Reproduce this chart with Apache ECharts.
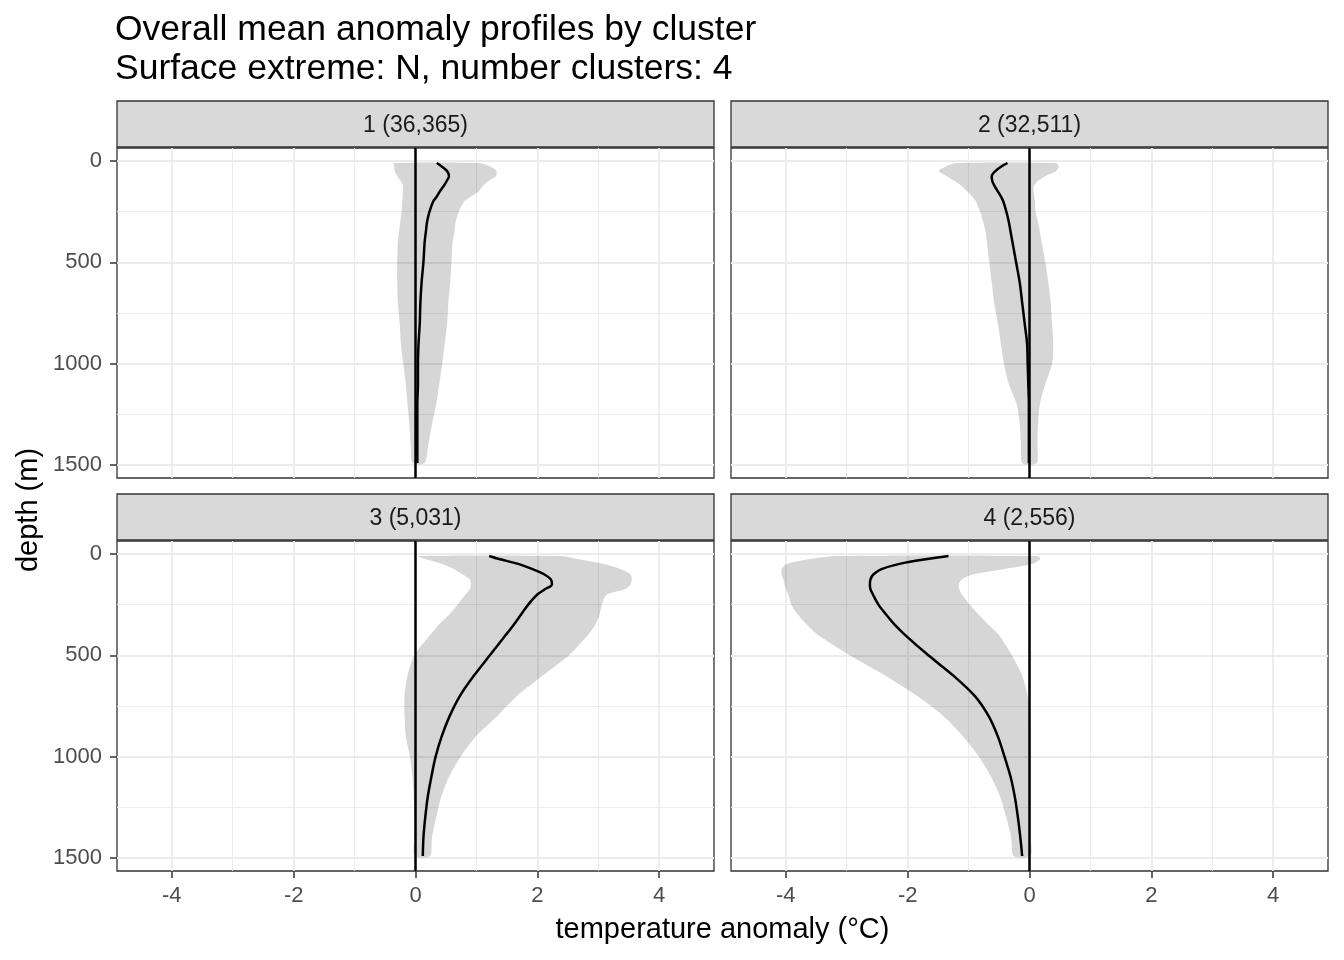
<!DOCTYPE html>
<html>
<head>
<meta charset="utf-8">
<script src="https://cdn.jsdelivr.net/npm/echarts@6/dist/echarts.min.js"></script>
<style>
html,body{margin:0;padding:0;background:#fff;}
#chart{width:1344px;height:960px;}
</style>
</head>
<body>
<div id="chart"></div>
<script>
// ---- data ----
const depths = [10, 25, 50, 75, 100, 125, 150, 175, 200, 250, 300, 350, 400, 500, 600, 700, 800, 900, 1000, 1100, 1200, 1300, 1400, 1490];

const clusterLabels = ['1 (36,365)', '2 (32,511)', '3 (5,031)', '4 (2,556)'];

const mean1 = [0.35,0.42,0.52,0.55,0.51,0.46,0.40,0.35,0.29,0.23,0.19,0.17,0.15,0.13,0.10,0.08,0.07,0.05,0.04,0.04,0.03,0.03,0.03,0.03];
const lo1   = [-0.36,-0.35,-0.34,-0.30,-0.24,-0.20,-0.21,-0.21,-0.22,-0.23,-0.25,-0.27,-0.29,-0.30,-0.30,-0.29,-0.26,-0.24,-0.20,-0.16,-0.13,-0.10,-0.08,-0.05];
const hi1   = [1.04,1.21,1.33,1.32,1.19,1.10,1.04,0.91,0.80,0.71,0.66,0.64,0.61,0.59,0.57,0.54,0.52,0.48,0.44,0.39,0.34,0.27,0.21,0.15];

const mean2 = [-0.36,-0.45,-0.56,-0.62,-0.61,-0.57,-0.52,-0.47,-0.43,-0.38,-0.34,-0.31,-0.28,-0.22,-0.16,-0.12,-0.08,-0.04,-0.03,-0.02,-0.01,-0.01,-0.01,-0.01];
const lo2   = [-1.19,-1.36,-1.49,-1.36,-1.22,-1.11,-1.02,-0.94,-0.88,-0.81,-0.76,-0.72,-0.70,-0.66,-0.62,-0.58,-0.52,-0.47,-0.42,-0.34,-0.21,-0.16,-0.14,-0.12];
const hi2   = [0.43,0.48,0.44,0.26,0.13,0.07,0.07,0.08,0.09,0.10,0.14,0.17,0.20,0.26,0.31,0.35,0.37,0.39,0.37,0.26,0.17,0.14,0.13,0.12];

const mean3 = [1.21,1.37,1.70,1.92,2.11,2.22,2.24,2.12,2.00,1.85,1.73,1.61,1.48,1.22,0.96,0.73,0.56,0.43,0.33,0.26,0.20,0.16,0.13,0.12];
const lo3   = [0.04,0.16,0.44,0.63,0.77,0.89,0.91,0.89,0.82,0.69,0.55,0.38,0.24,-0.02,-0.13,-0.18,-0.18,-0.16,-0.09,-0.05,-0.03,-0.02,-0.02,-0.02];
const hi3   = [2.39,2.66,3.10,3.37,3.53,3.55,3.53,3.43,3.14,3.06,3.02,2.95,2.83,2.52,2.09,1.67,1.34,0.99,0.74,0.55,0.42,0.34,0.27,0.24];

const mean4 = [-1.33,-1.68,-2.15,-2.43,-2.56,-2.61,-2.62,-2.61,-2.57,-2.48,-2.35,-2.21,-2.04,-1.66,-1.25,-0.90,-0.67,-0.52,-0.41,-0.31,-0.24,-0.19,-0.15,-0.12];
const lo4   = [-3.17,-3.60,-3.99,-4.07,-4.07,-4.04,-4.02,-3.99,-3.96,-3.91,-3.80,-3.65,-3.47,-2.95,-2.37,-1.85,-1.41,-1.09,-0.83,-0.63,-0.48,-0.38,-0.30,-0.26];
const hi4   = [0.13,0.18,0.04,-0.42,-0.92,-1.11,-1.16,-1.15,-1.11,-0.98,-0.83,-0.67,-0.50,-0.29,-0.12,-0.03,0.01,0.02,0.02,0.02,0.02,0.02,0.02,0.02];

const xMajorTicks = [-4, -2, 0, 2, 4];
const xMinorTicks = [-3, -1, 1, 3];
const yMajorTicks = [0, 500, 1000, 1500];
const yMinorTicks = [250, 750, 1250];

const titleText = 'Overall mean anomaly profiles by cluster\nSurface extreme: N, number clusters: 4';
const xTitle = 'temperature anomaly (°C)';
const yTitle = 'depth (m)';

// ---- layout ----
const FONT = '"Liberation Sans", Arial, Helvetica, sans-serif';
const means = [mean1, mean2, mean3, mean4];
const los = [lo1, lo2, lo3, lo4];
const his = [hi1, hi2, hi3, hi4];
const panels = [
  {left: 117, top: 148},
  {left: 731, top: 148},
  {left: 117, top: 541},
  {left: 731, top: 541}
];
const PW = 597, PH = 330, STRIP = 46;
const XMIN = -4.9, XMAX = 4.9, YMIN = -64, YMAX = 1564;

const grid = [], xAxis = [], yAxis = [], series = [], graphic = [];
const plain = v => String(v);

panels.forEach((p, i) => {
  const bottomRow = i >= 2, leftCol = (i % 2) === 0;
  grid.push({left: p.left, top: p.top, width: PW, height: PH, show: true,
    backgroundColor: '#fff', borderColor: '#333333', borderWidth: 1.3, containLabel: false});
  xAxis.push({type: 'value', gridIndex: i, min: XMIN, max: XMAX, position: 'bottom',
    axisLine: {show: false, onZero: false},
    axisTick: {show: bottomRow, length: 7, customValues: xMajorTicks, lineStyle: {color: '#333333', width: 1.5}},
    axisLabel: {show: bottomRow, customValues: xMajorTicks, formatter: plain, fontSize: 22, color: '#4D4D4D', margin: 14, fontFamily: FONT},
    splitLine: {show: true, lineStyle: {color: '#EBEBEB', width: 1.8}}
  });
  xAxis.push({type: 'value', gridIndex: i, min: XMIN, max: XMAX, position: 'bottom',
    axisLine: {show: false, onZero: false},
    axisTick: {show: false, customValues: xMinorTicks},
    axisLabel: {show: false, customValues: xMinorTicks},
    splitLine: {show: true, lineStyle: {color: '#EBEBEB', width: 0.9}}
  });
  yAxis.push({type: 'value', gridIndex: i, min: YMIN, max: YMAX, inverse: true, position: 'left',
    axisLine: {show: false, onZero: false},
    axisTick: {show: leftCol, length: 7, customValues: yMajorTicks, lineStyle: {color: '#333333', width: 1.5}},
    axisLabel: {show: leftCol, customValues: yMajorTicks, formatter: plain, fontSize: 22, color: '#4D4D4D', margin: 15, fontFamily: FONT},
    splitLine: {show: true, lineStyle: {color: '#EBEBEB', width: 1.8}}
  });
  yAxis.push({type: 'value', gridIndex: i, min: YMIN, max: YMAX, inverse: true, position: 'left',
    axisLine: {show: false, onZero: false},
    axisTick: {show: false, customValues: yMinorTicks},
    axisLabel: {show: false, customValues: yMinorTicks},
    splitLine: {show: true, lineStyle: {color: '#EBEBEB', width: 0.9}}
  });

  const lo = los[i], hi = his[i], mean = means[i];
  series.push({
    type: 'custom', xAxisIndex: 2 * i, yAxisIndex: 2 * i, clip: true, silent: true,
    data: [[0, 0]],
    renderItem: function (params, api) {
      const pts = [];
      for (let k = 0; k < depths.length; k++) pts.push(api.coord([lo[k], depths[k]]));
      for (let k = depths.length - 1; k >= 0; k--) pts.push(api.coord([hi[k], depths[k]]));
      return {type: 'polygon', shape: {points: pts, smooth: 0.25}, style: {fill: 'rgba(0,0,0,0.16)', stroke: null}};
    },
    z: 2
  });
  series.push({
    type: 'line', xAxisIndex: 2 * i, yAxisIndex: 2 * i,
    data: depths.map((d, k) => [mean[k], d]),
    showSymbol: false, smooth: 0.3, silent: true,
    lineStyle: {color: '#000', width: 2.5},
    markLine: {silent: true, symbol: 'none', label: {show: false},
      lineStyle: {color: '#000', width: 2.5, type: 'solid'},
      data: [{xAxis: 0}]},
    z: 3
  });
  graphic.push({type: 'rect', shape: {x: p.left, y: p.top - STRIP - 1, width: PW, height: STRIP},
    style: {fill: '#D9D9D9', stroke: '#333333', lineWidth: 1.3}});
  graphic.push({type: 'text', x: p.left + PW / 2, y: p.top - STRIP / 2 + 1,
    style: {text: clusterLabels[i], fill: '#1A1A1A', font: '23px ' + FONT, textAlign: 'center', textVerticalAlign: 'middle'}});
});

graphic.push({type: 'text', x: 117 + (1328 - 117) / 2, y: 930,
  style: {text: xTitle, fill: '#000', font: '29px ' + FONT, textAlign: 'center', textVerticalAlign: 'middle'}});
graphic.push({type: 'text', x: 29, y: 510, rotation: Math.PI / 2,
  style: {text: yTitle, fill: '#000', font: '29px ' + FONT, textAlign: 'center', textVerticalAlign: 'middle'}});

const chart = echarts.init(document.getElementById('chart'), null, {renderer: 'canvas'});
chart.setOption({
  backgroundColor: '#fff',
  animation: false,
  title: {text: titleText, left: 110, top: 6,
    textStyle: {fontSize: 35.5, lineHeight: 39, fontWeight: 'normal', color: '#000', fontFamily: FONT}},
  grid, xAxis, yAxis, series, graphic
});
</script>
</body>
</html>
